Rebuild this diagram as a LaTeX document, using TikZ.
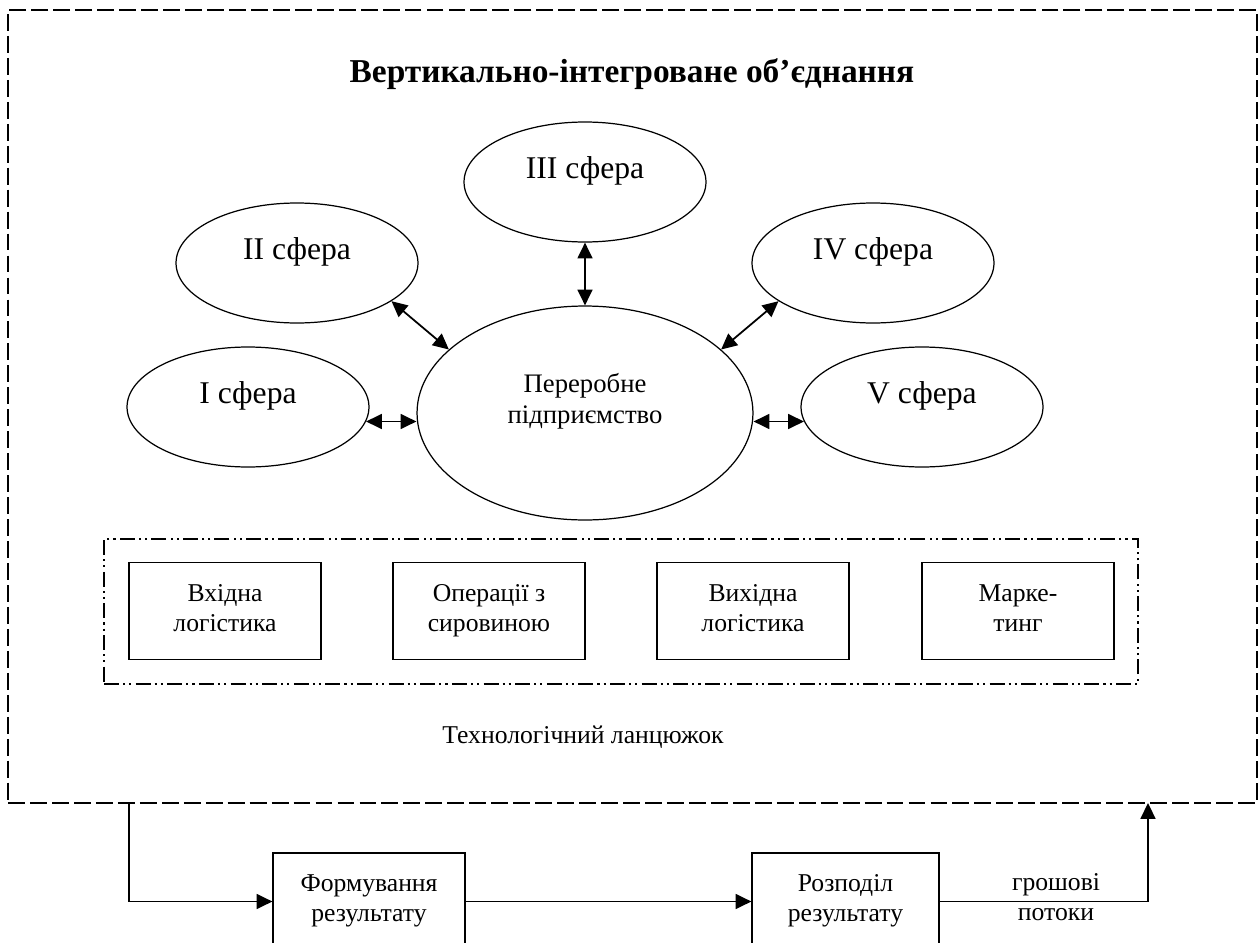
\documentclass[tikz,border=0pt]{standalone}
\usepackage{fontspec}
\setmainfont{Liberation Serif}
\usetikzlibrary{shapes.geometric,arrows.meta}
\begin{document}
\begin{tikzpicture}[x=0.02cm, y=-0.02cm,
    every node/.style={font=\fontsize{14.6}{17}\selectfont, inner sep=0pt},
    sphere/.style={ellipse, draw, line width=0.7pt, minimum width=4.84cm, minimum height=2.4cm, font=\fontsize{18}{21}\selectfont, text height=12pt, text depth=15.7pt},
    stage/.style={rectangle, draw, line width=0.7pt, minimum width=3.84cm, minimum height=1.94cm, align=center, text height=27pt, text depth=4pt},
    link/.style={{Triangle[length=9pt,width=8.5pt]}-{Triangle[length=9pt,width=8.5pt]}, line width=1pt},
    flow/.style={-{Triangle[length=9pt,width=8.5pt]}, line width=1pt}]
  \useasboundingbox (0,0) rectangle (1258,943);

  % outer frame of the union
  \node[draw, line width=0.8pt, dash pattern=on 9.6pt off 2.9pt, minimum width=24.98cm, minimum height=15.86cm] (frame) at (632.5,406.5) {};
  \node[font=\fontsize{19}{23}\selectfont\bfseries] (title) at (632,74) {Вертикально-інтегроване об’єднання};

  % spheres
  \node[sphere] (s3) at (585,182) {III сфера};
  \node[sphere] (s2) at (297,263) {II сфера};
  \node[sphere] (s4) at (873,263) {IV сфера};
  \node[sphere] (s1) at (248,407) {I сфера};
  \node[sphere] (s5) at (922,407) {V сфера};
  \node[ellipse, draw, line width=0.7pt, minimum width=6.72cm, minimum height=4.28cm, align=center, font=\fontsize{15.2}{17.5}\selectfont, text height=28pt, text depth=16.6pt] (plant) at (585,413) {Переробне\\підприємство};

  \draw[link] (s3.south) -- (plant.north);
  \draw[link] (s2.-22) -- (plant.155);
  \draw[link] (s4.202) -- (plant.25);
  \draw[link] (s1.-7) -- (s1.-7 -| plant.west);
  \draw[link] (s5.187) -- (s5.187 -| plant.east);

  % technological chain
  \node[draw, line width=0.7pt, dash pattern=on 8.5pt off 2.3pt on 1.2pt off 2.3pt on 1.2pt off 2.5pt, minimum width=20.68cm, minimum height=2.9cm] (chain) at (621,611.5) {};
  \node[stage] (inlog) at (225,611) {Вхідна\\логістика};
  \node[stage] (ops) at (489,611) {Операції з\\сировиною};
  \node[stage] (outlog) at (753,611) {Вихідна\\логістика};
  \node[stage] (mkt) at (1018,611) {Марке-\\тинг};
  \node (chainlab) at (583,737) {Технологічний ланцюжок};

  % result
  \coordinate (exit) at (129,803);
  \coordinate (entry) at (1148,803);
  \node[stage] (form) at (369,901.5) {Формування\\результату};
  \node[stage, minimum width=3.74cm] (dist) at (845.5,901.5) {Розподіл\\результату};
  \node[align=center] (money) at (1056,897) {грошові\\потоки};

  \draw[flow] (exit) |- (form.west);
  \draw[flow] (form) -- (dist);
  \draw[flow] (dist.east) -| (entry);
\end{tikzpicture}
\end{document}
